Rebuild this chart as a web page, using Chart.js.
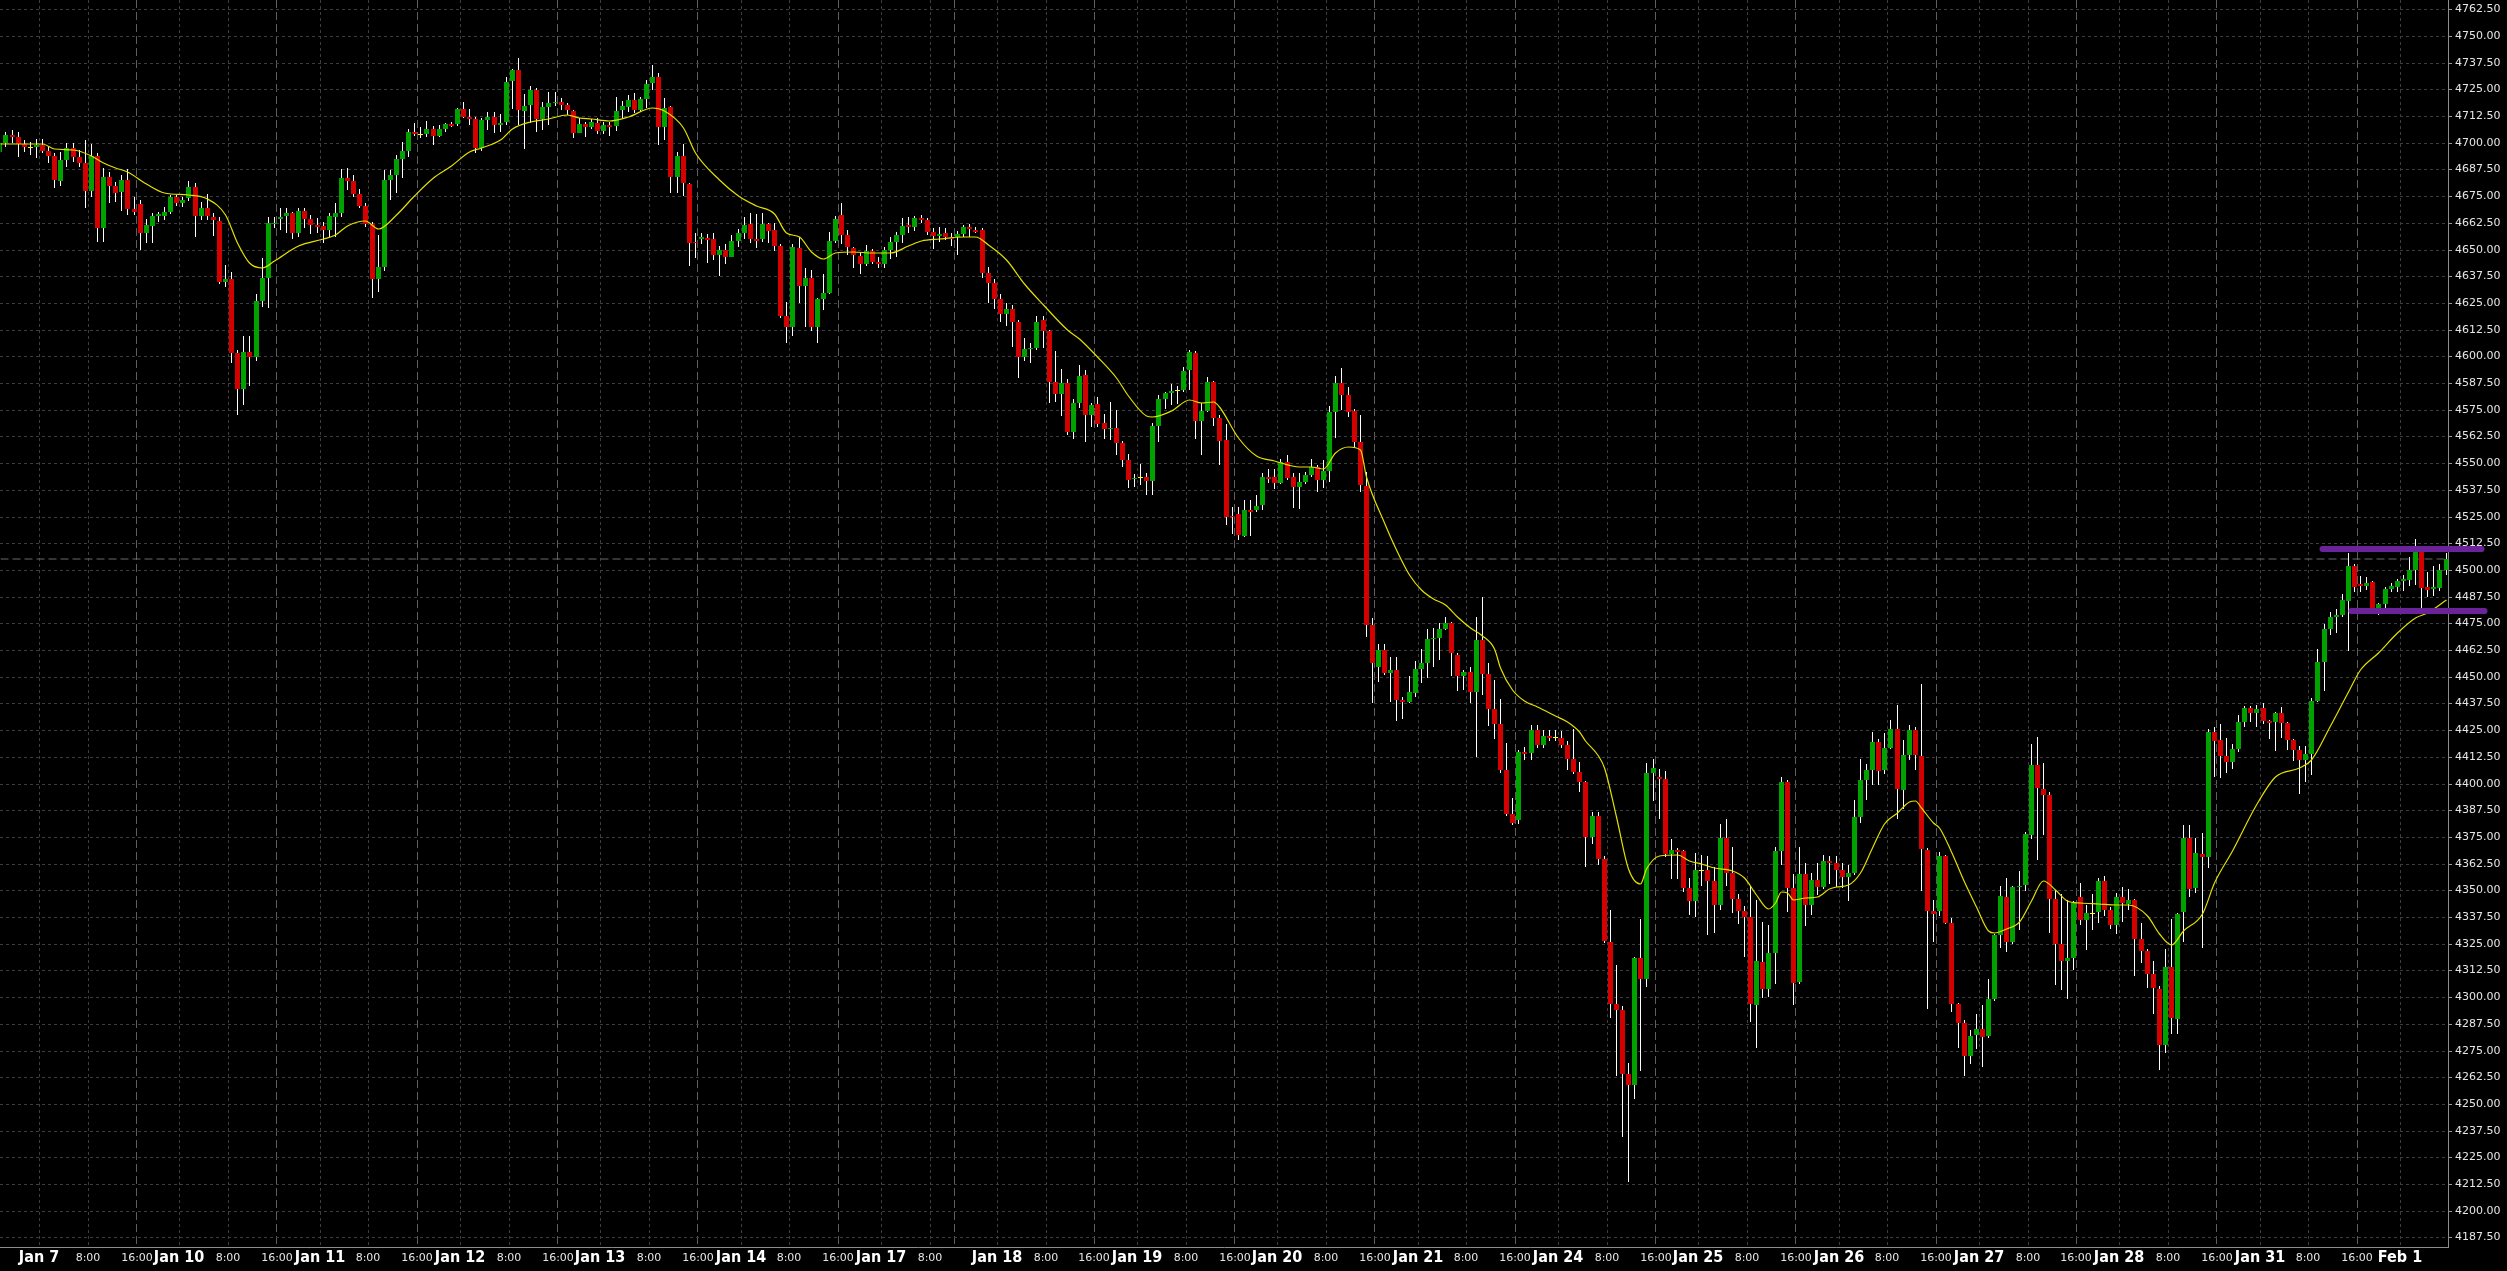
<!DOCTYPE html>
<html>
<head>
<meta charset="utf-8">
<script src="https://cdn.jsdelivr.net/npm/chart.js@4/dist/chart.umd.min.js"></script>
<style>
  html, body { margin: 0; padding: 0; background: #000; overflow: hidden; }
  canvas { display: block; }
</style>
</head>
<body>
<canvas id="chart" width="2507" height="1271"></canvas>
<script>
// hourly candles, Jan 6 18:00 -> Feb 1 07:00 (index = candle number)
var opens = [
  4695.5,4699.7,4703.6,4702.5,4699.3,4697.7,4698.2,4699.0,4696.1,4693.8,
  4682.3,4691.9,4697.4,4693.2,4690.7,4677.6,4693.8,4660.3,4684.1,4679.9,
  4677.1,4682.6,4669.0,4671.3,4657.9,4661.2,4665.7,4665.7,4667.8,4674.5,
  4672.0,4674.0,4679.5,4665.9,4669.3,4665.1,4663.4,4635.0,4636.1,4601.4,
  4584.8,4601.9,4599.9,4626.0,4636.9,4661.8,4664.2,4665.7,4667.0,4657.9,
  4668.1,4664.3,4661.5,4661.0,4659.2,4665.4,4667.0,4683.7,4682.1,4676.0,
  4670.4,4661.8,4636.1,4641.7,4682.6,4684.9,4692.2,4696.1,4705.2,4703.6,
  4704.1,4706.3,4703.3,4706.3,4708.8,4708.8,4715.7,4712.2,4711.1,4697.4,
  4710.7,4711.9,4708.3,4709.9,4728.8,4734.0,4715.0,4717.7,4724.7,4711.0,
  4716.9,4718.5,4719.2,4717.7,4714.9,4704.7,4708.8,4707.2,4709.1,4705.7,
  4708.3,4707.8,4715.3,4716.9,4720.0,4715.3,4720.3,4727.8,4730.6,4707.2,
  4716.6,4684.1,4693.8,4680.7,4653.7,4655.0,4655.6,4655.0,4647.5,4649.8,
  4646.7,4654.0,4657.6,4662.0,4655.0,4654.8,4662.0,4659.2,4651.7,4618.9,
  4613.9,4650.6,4633.0,4636.6,4613.6,4626.7,4629.8,4654.0,4666.2,4656.8,
  4650.6,4647.0,4643.3,4649.3,4644.3,4643.3,4649.8,4653.7,4656.8,4661.5,
  4660.4,4664.6,4663.9,4658.4,4656.5,4657.6,4656.1,4656.1,4657.3,4660.7,
  4659.2,4659.2,4638.9,4634.5,4627.0,4620.0,4622.0,4616.0,4599.9,4603.3,
  4604.1,4617.0,4611.9,4588.1,4582.4,4587.7,4564.7,4578.0,4591.3,4572.5,
  4577.7,4568.6,4565.8,4566.3,4559.3,4551.5,4542.4,4543.2,4543.7,4541.8,
  4567.5,4580.0,4583.0,4583.8,4584.2,4593.6,4601.7,4569.9,4574.4,4587.8,
  4571.3,4560.8,4525.2,4526.2,4516.0,4528.1,4528.1,4530.4,4543.7,4543.7,
  4540.8,4550.7,4543.7,4539.0,4541.3,4544.4,4548.0,4542.1,4546.5,4574.1,
  4587.7,4581.9,4574.4,4559.7,4539.4,4474.2,4454.7,4462.5,4451.9,4453.1,
  4439.1,4438.3,4442.2,4453.4,4456.6,4467.6,4468.0,4472.3,4475.0,4460.2,
  4450.5,4452.4,4443.0,4467.1,4451.4,4434.9,4428.1,4406.2,4385.6,4383.0,
  4414.6,4414.3,4425.0,4418.2,4422.2,4421.5,4421.5,4418.2,4411.6,4405.3,
  4400.9,4374.9,4384.7,4364.8,4326.0,4296.9,4294.1,4263.8,4258.8,4318.3,
  4308.6,4404.8,4403.0,4402.1,4367.2,4368.9,4368.4,4351.0,4344.8,4359.1,
  4359.5,4354.3,4343.3,4374.3,4358.2,4346.0,4340.3,4337.6,4296.4,4316.5,
  4303.6,4320.6,4368.6,4400.7,4351.0,4306.9,4357.7,4343.3,4354.6,4351.6,
  4363.6,4362.7,4359.6,4356.4,4358.2,4384.5,4401.6,4406.2,4419.5,4406.2,
  4416.8,4425.4,4397.1,4413.2,4425.0,4412.9,4369.0,4340.3,4340.5,4365.9,
  4334.6,4296.9,4288.0,4272.2,4282.2,4285.2,4281.7,4299.0,4329.0,4346.7,
  4325.9,4351.4,4352.7,4376.1,4408.7,4397.3,4394.8,4345.8,4325.0,4316.9,
  4318.1,4347.0,4335.9,4338.9,4339.8,4354.5,4340.6,4333.7,4346.7,4343.7,
  4345.5,4327.3,4321.6,4310.6,4303.7,4277.7,4314.1,4289.9,4339.8,4374.7,
  4351.0,4367.0,4365.7,4424.3,4420.5,4412.9,4409.9,4416.0,4429.0,4435.4,
  4433.0,4435.4,4429.5,4429.0,4433.0,4428.5,4420.3,4415.6,4411.1,4413.9,
  4438.8,4457.0,4472.3,4478.0,4478.7,4485.6,4501.7,4493.4,4492.5,4494.3,
  4482.1,4483.9,4491.3,4492.2,4494.8,4495.3,4500.0,4508.6,4492.2,4490.9,
  4491.7,4500.0
];
var highs = [
  4702.0,4705.2,4706.0,4705.2,4701.3,4700.5,4702.0,4701.9,4698.2,4695.1,
  4695.8,4699.7,4699.7,4696.6,4701.3,4699.4,4695.4,4688.0,4686.5,4681.8,
  4684.9,4687.6,4674.8,4673.2,4664.2,4667.3,4667.8,4670.1,4675.6,4675.6,
  4674.8,4682.3,4681.0,4672.4,4676.0,4667.0,4665.1,4642.8,4639.7,4603.0,
  4609.3,4609.3,4629.2,4645.9,4665.4,4665.4,4669.3,4669.3,4667.8,4669.3,
  4669.3,4666.2,4664.6,4663.1,4667.0,4672.0,4687.6,4688.3,4684.9,4678.2,
  4671.7,4663.1,4656.8,4687.3,4687.3,4694.3,4700.5,4706.3,4709.1,4707.2,
  4710.4,4707.9,4708.3,4709.4,4709.9,4716.1,4719.2,4715.7,4711.9,4711.5,
  4714.6,4714.6,4713.5,4730.6,4734.4,4739.5,4722.8,4726.6,4725.5,4719.2,
  4723.9,4723.9,4720.8,4718.5,4715.3,4711.4,4709.9,4711.0,4711.4,4709.9,
  4709.9,4721.3,4719.7,4722.4,4723.1,4721.6,4729.4,4736.4,4732.5,4720.8,
  4717.2,4695.8,4699.4,4681.3,4657.9,4657.9,4657.1,4657.9,4651.7,4652.6,
  4656.8,4659.5,4665.4,4667.0,4666.7,4667.0,4662.6,4662.3,4652.6,4625.6,
  4652.6,4655.8,4641.2,4640.5,4627.2,4638.6,4658.4,4665.7,4671.7,4659.2,
  4651.4,4649.0,4652.2,4650.1,4646.7,4651.1,4655.8,4658.4,4664.6,4665.4,
  4665.7,4666.2,4664.6,4660.0,4660.4,4660.3,4657.6,4658.9,4661.5,4662.0,
  4660.4,4660.0,4642.0,4636.0,4629.0,4625.0,4624.0,4617.0,4608.4,4606.1,
  4619.0,4619.0,4612.3,4602.5,4593.9,4589.2,4579.9,4596.0,4593.6,4578.0,
  4581.1,4573.0,4578.8,4574.9,4560.5,4554.3,4544.9,4549.6,4545.2,4568.6,
  4581.9,4583.5,4587.0,4586.1,4595.2,4603.0,4602.7,4578.3,4590.2,4588.6,
  4572.5,4568.3,4529.6,4529.6,4532.7,4532.7,4535.1,4545.2,4547.1,4547.1,
  4551.8,4553.8,4545.2,4545.2,4546.0,4551.8,4549.1,4551.5,4576.8,4590.8,
  4594.4,4585.5,4575.2,4572.5,4546.0,4477.3,4465.3,4465.3,4459.4,4459.1,
  4440.3,4450.3,4457.3,4462.8,4472.3,4472.6,4475.0,4477.8,4475.8,4461.2,
  4453.1,4454.7,4477.9,4487.2,4456.2,4448.3,4439.4,4418.8,4393.1,4415.5,
  4417.3,4427.6,4427.6,4425.0,4425.0,4425.0,4424.5,4420.0,4425.4,4410.2,
  4401.2,4386.9,4386.9,4365.9,4340.8,4315.2,4296.0,4269.2,4318.8,4336.7,
  4409.6,4411.4,4407.0,4405.7,4373.8,4369.9,4368.9,4355.9,4367.7,4366.6,
  4366.3,4360.9,4380.9,4383.3,4370.2,4348.4,4342.6,4351.9,4345.7,4335.3,
  4333.7,4370.2,4403.0,4401.7,4357.7,4370.2,4362.7,4358.2,4362.7,4366.6,
  4365.9,4365.9,4363.0,4361.8,4392.2,4411.4,4409.3,4424.0,4420.9,4423.6,
  4429.9,4437.0,4420.4,4427.2,4426.3,4446.5,4369.9,4345.7,4368.1,4366.6,
  4337.2,4297.3,4289.2,4284.7,4292.1,4296.5,4308.6,4329.7,4351.9,4355.7,
  4351.9,4359.2,4377.5,4418.6,4422.0,4409.4,4396.0,4350.1,4348.4,4345.3,
  4344.9,4353.6,4343.2,4348.4,4355.7,4356.7,4342.3,4348.8,4351.5,4350.5,
  4345.8,4334.6,4322.4,4316.9,4305.4,4322.4,4336.6,4339.4,4380.5,4380.5,
  4374.7,4377.0,4425.5,4426.4,4427.7,4421.2,4418.6,4431.9,4436.4,4436.4,
  4436.8,4437.6,4429.8,4433.3,4435.9,4429.0,4420.8,4417.4,4417.4,4440.2,
  4463.1,4474.5,4480.4,4481.8,4488.7,4507.8,4502.9,4497.0,4496.5,4494.8,
  4484.4,4492.2,4493.9,4495.6,4497.7,4506.0,4514.4,4510.0,4499.1,4501.7,
  4502.6,4507.8
];
var lows = [
  4694.0,4698.2,4699.7,4693.5,4695.8,4694.3,4692.7,4695.4,4690.7,4678.7,
  4679.8,4688.8,4691.2,4688.8,4669.6,4674.8,4653.7,4653.7,4671.7,4672.4,
  4668.2,4666.2,4666.2,4649.8,4653.2,4653.2,4663.1,4663.9,4666.7,4670.4,
  4670.1,4672.9,4656.1,4663.9,4663.9,4656.4,4633.9,4632.7,4597.1,4572.6,
  4577.3,4586.3,4597.6,4623.3,4622.8,4660.0,4659.2,4657.6,4654.8,4656.1,
  4659.9,4657.3,4657.6,4653.2,4656.1,4656.1,4665.4,4677.9,4674.8,4669.3,
  4660.7,4627.2,4630.3,4640.1,4673.2,4676.3,4683.3,4693.5,4703.3,4702.1,
  4702.9,4699.0,4702.6,4705.2,4707.2,4707.9,4711.5,4708.3,4695.1,4696.3,
  4706.0,4704.4,4705.2,4708.3,4715.7,4708.3,4696.9,4709.4,4705.2,4706.0,
  4708.3,4717.2,4715.3,4713.0,4702.1,4704.4,4702.9,4706.3,4704.1,4704.0,
  4703.2,4705.7,4711.0,4714.6,4714.1,4714.6,4716.1,4724.7,4699.0,4701.3,
  4676.3,4676.3,4675.1,4642.3,4645.9,4652.6,4643.9,4645.1,4637.6,4643.3,
  4646.4,4651.1,4654.8,4652.9,4650.6,4653.7,4652.9,4649.5,4617.8,4606.4,
  4609.3,4624.8,4613.9,4612.1,4606.1,4621.7,4629.2,4652.9,4652.6,4647.5,
  4641.2,4638.6,4642.3,4643.3,4641.2,4641.2,4645.5,4646.4,4653.2,4657.6,
  4658.9,4662.6,4656.8,4650.1,4653.7,4654.5,4651.7,4647.5,4656.1,4656.1,
  4657.6,4636.6,4625.2,4622.0,4616.0,4614.0,4604.5,4590.0,4598.0,4596.7,
  4603.0,4604.0,4578.3,4578.8,4572.1,4563.2,4561.1,4575.7,4560.0,4567.1,
  4567.1,4561.1,4560.8,4553.8,4548.0,4538.2,4538.7,4539.8,4535.1,4535.1,
  4560.0,4575.2,4577.2,4577.7,4583.5,4584.2,4561.1,4553.8,4574.1,4567.4,
  4549.1,4521.0,4516.8,4514.0,4515.6,4515.9,4527.3,4528.1,4540.5,4537.7,
  4540.2,4542.1,4528.8,4528.5,4540.2,4543.7,4536.6,4538.2,4541.0,4561.6,
  4574.9,4571.4,4556.9,4536.6,4468.7,4437.8,4447.7,4450.8,4438.3,4429.4,
  4430.0,4437.5,4440.6,4447.2,4449.6,4454.4,4457.8,4471.9,4450.3,4443.5,
  4443.8,4437.8,4412.5,4441.5,4426.8,4420.9,4404.8,4384.7,4380.6,4381.0,
  4411.1,4411.1,4416.4,4416.4,4419.7,4420.0,4416.4,4406.1,4404.4,4395.8,
  4360.9,4371.6,4361.8,4325.4,4290.1,4262.9,4234.6,4213.5,4252.5,4265.6,
  4304.5,4391.7,4383.3,4365.4,4355.2,4355.2,4349.2,4338.5,4337.6,4352.0,
  4329.0,4330.1,4340.8,4351.9,4339.4,4334.4,4318.8,4288.3,4276.3,4299.6,
  4300.0,4306.3,4361.8,4339.8,4296.4,4306.0,4333.1,4338.5,4348.0,4350.5,
  4352.8,4351.6,4351.0,4345.1,4357.3,4381.5,4392.2,4399.4,4399.4,4404.3,
  4416.0,4383.3,4388.1,4411.1,4406.2,4349.8,4294.2,4325.9,4338.0,4334.0,
  4292.8,4276.3,4263.2,4268.6,4275.7,4267.3,4280.9,4298.2,4322.8,4321.1,
  4325.0,4331.4,4349.8,4374.0,4364.4,4375.8,4330.2,4305.5,4303.4,4299.0,
  4312.9,4333.7,4322.1,4331.4,4334.9,4338.0,4332.0,4329.7,4335.4,4340.6,
  4309.9,4315.8,4304.3,4292.1,4266.1,4273.6,4282.9,4282.9,4325.9,4346.7,
  4348.8,4322.8,4360.5,4403.0,4402.5,4404.7,4407.0,4414.6,4426.7,4429.0,
  4426.7,4427.8,4420.8,4415.1,4421.5,4415.6,4410.4,4395.2,4400.7,4403.8,
  4438.1,4443.3,4469.7,4470.5,4478.0,4461.9,4489.6,4489.6,4490.5,4481.4,
  4478.7,4482.1,4489.6,4489.6,4490.1,4492.5,4493.1,4482.1,4487.3,4487.9,
  4490.1,4497.7
];
var closes = [
  4700.0,4703.6,4702.9,4699.3,4698.2,4697.7,4699.0,4696.1,4693.8,4682.6,
  4691.9,4697.4,4693.2,4690.7,4677.6,4693.8,4660.3,4684.1,4679.9,4676.6,
  4682.6,4669.0,4667.8,4657.9,4661.5,4665.7,4666.5,4667.8,4674.5,4672.0,
  4673.2,4679.5,4665.9,4669.3,4665.9,4663.9,4635.0,4636.1,4601.4,4584.8,
  4601.9,4599.6,4626.0,4636.9,4662.6,4662.6,4665.4,4667.0,4657.9,4668.1,
  4664.3,4661.5,4660.7,4659.2,4665.7,4667.0,4683.7,4682.1,4676.0,4670.4,
  4661.8,4636.1,4641.7,4682.6,4684.9,4692.2,4696.1,4705.2,4704.1,4703.6,
  4706.3,4703.3,4706.3,4708.8,4707.9,4715.7,4712.2,4711.1,4697.4,4710.7,
  4711.9,4708.3,4709.4,4728.6,4734.0,4715.3,4717.2,4724.7,4711.0,4716.6,
  4718.5,4719.2,4717.7,4715.3,4704.7,4708.8,4707.2,4709.9,4705.7,4708.3,
  4707.5,4714.9,4717.2,4720.0,4715.3,4720.3,4727.5,4730.6,4707.2,4716.1,
  4684.1,4693.8,4681.0,4653.2,4652.9,4656.1,4654.5,4647.5,4649.8,4646.7,
  4654.0,4657.9,4661.5,4655.0,4654.0,4662.0,4658.9,4651.9,4618.9,4613.9,
  4651.1,4633.0,4636.6,4613.6,4626.7,4629.5,4654.0,4664.2,4656.8,4651.1,
  4647.5,4643.3,4649.3,4644.3,4643.3,4649.8,4653.7,4656.8,4661.0,4660.4,
  4664.6,4663.9,4658.4,4656.5,4657.3,4656.1,4654.8,4657.3,4660.7,4659.5,
  4658.4,4639.2,4634.5,4627.0,4620.0,4622.0,4616.0,4599.9,4603.4,4603.8,
  4616.0,4612.0,4588.1,4582.4,4587.7,4564.7,4578.3,4590.8,4572.5,4577.2,
  4568.3,4565.8,4566.6,4559.6,4551.5,4542.1,4543.2,4543.2,4541.8,4567.5,
  4580.0,4582.7,4583.8,4583.8,4593.1,4601.9,4569.9,4574.4,4587.8,4571.3,
  4560.5,4524.9,4524.6,4516.3,4528.1,4527.3,4529.9,4543.7,4542.7,4540.5,
  4550.7,4542.9,4539.0,4541.3,4544.4,4548.0,4542.1,4546.5,4574.1,4587.7,
  4581.9,4574.1,4560.0,4539.8,4474.2,4456.6,4462.5,4451.9,4453.1,4439.1,
  4438.3,4443.0,4453.4,4456.6,4467.6,4468.3,4472.3,4475.0,4460.9,4450.5,
  4452.4,4443.0,4467.1,4451.4,4434.9,4428.1,4406.2,4385.6,4381.5,4414.6,
  4413.8,4425.0,4418.2,4422.2,4421.5,4421.5,4418.2,4411.6,4405.3,4400.9,
  4374.9,4384.7,4364.8,4326.5,4296.9,4294.1,4263.8,4258.8,4318.3,4308.6,
  4404.8,4407.5,4402.1,4367.2,4368.9,4368.1,4351.0,4344.8,4359.5,4359.1,
  4354.3,4343.3,4374.3,4358.2,4346.0,4340.3,4337.6,4296.7,4317.0,4303.6,
  4320.6,4368.6,4400.7,4351.0,4306.8,4357.7,4343.3,4354.6,4351.6,4363.6,
  4362.7,4359.6,4356.4,4358.2,4384.5,4401.6,4406.2,4419.5,4406.0,4416.8,
  4425.4,4397.6,4413.2,4425.0,4413.2,4369.3,4340.3,4338.9,4365.9,4334.9,
  4296.9,4288.0,4272.2,4281.7,4285.2,4281.2,4299.0,4329.0,4347.5,4325.9,
  4351.5,4351.9,4376.5,4408.7,4397.8,4394.8,4345.8,4325.0,4316.9,4318.1,
  4344.1,4335.9,4339.4,4338.9,4354.5,4340.6,4333.7,4346.7,4344.1,4345.5,
  4327.3,4321.6,4310.6,4304.3,4277.7,4314.1,4290.4,4338.9,4374.7,4350.5,
  4367.5,4365.7,4424.3,4419.8,4412.9,4409.9,4416.0,4429.0,4435.4,4433.0,
  4435.0,4429.5,4428.5,4433.0,4428.5,4420.3,4415.6,4411.1,4413.9,4438.8,
  4457.0,4472.3,4478.0,4478.7,4486.1,4501.7,4492.2,4492.5,4493.9,4482.1,
  4483.9,4491.3,4492.5,4494.8,4495.6,4500.0,4508.6,4491.7,4490.8,4492.2,
  4500.0,4505.0
];

// yellow moving average at these candles
var maIndex = [0,7,9,12,15,17,19,21,24,27,31,34,37,39,41,43,45,49,53,55,57,60,62,65,68,71,74,77,79,82,
  84,87,90,93,95,97,100,103,107,109,112,114,118,121,124,127,129,131,133,135,137,140,143,146,149,151,154,158,160,162,
  165,168,171,175,177,180,183,185,188,189,192,195,197,199,200,203,206,209,213,215,217,219,221,223,224,227,229,231,233,235,
  237,239,241,243,245,246,248,250,252,255,257,259,260,262,263,265,267,269,270,272,275,277,279,281,284,286,288,290,291,292,
  293,294,296,298,300,301,303,305,307,309,311,313,314,315,317,318,320,322,324,326,327,329,331,333,335,337,339,341,344,347,
  349,352,354,356,358,361,363,366,370,373,377,379,382,385,387,390,393,396,398,401];
var maValues = [4699.5,4699.5,4697,4696.6,4694,4690.5,4688,4686.5,4680.5,4676.3,4675.5,4673.5,4666.2,4653,4643.5,4641.2,4644.5,4651.8,4655,4656.8,4661,4663.5,4659.5,4666,4675,4683.3,4689,4695.5,4697.4,4701.3,
  4706.3,4709.9,4711,4712.9,4711.4,4711,4710.2,4712.2,4716.1,4715,4707,4695.1,4682.6,4675.3,4670.6,4666.5,4657.9,4656,4649,4645.6,4648.6,4649,4648.3,4648.3,4651.7,4654,4654.8,4655.7,4656.1,4652,
  4645,4634,4624,4612.3,4608,4599.9,4589.7,4581.5,4572,4571.8,4574.5,4579.6,4578.3,4578.8,4576.4,4562,4553.5,4551,4548.3,4548,4547.1,4554.6,4557.7,4556,4543.7,4521.8,4509.3,4497.6,4490.6,4486.2,
  4483.6,4478.1,4473,4469,4463,4454,4444,4438.8,4435.6,4431.7,4429,4424,4420,4413,4407.5,4384.2,4360,4352.8,4360,4366.3,4366.6,4363.6,4362.3,4360.5,4359,4356,4348,4341.2,4343.9,4349.3,
  4348.7,4345.7,4346.2,4347,4350.5,4351.6,4352.3,4358,4370,4381,4386,4391.4,4391.7,4388.7,4381.5,4379.2,4368,4354,4342,4331,4330.2,4331.9,4335.4,4345,4354.5,4350,4345,4344.1,4343.6,4343.2,
  4343.2,4338,4329.4,4324.2,4330.8,4338.9,4353.6,4368.3,4390,4403,4407.3,4410.8,4427,4442.8,4453.2,4461,4470.5,4477.5,4479.7,4486];

// bottom axis labels: candle index where each labelled hour starts
var tickIndex = [7,15,23,30,38,46,53,61,69,76,84,92,99,107,115,122,130,138,145,153,
  164,172,180,187,195,203,210,218,226,233,241,249,256,264,272,279,287,295,302,310,
  318,325,333,341,348,356,364,371,379,387,394];
var tickText = ['Jan 7','8:00','16:00','Jan 10','8:00','16:00','Jan 11','8:00','16:00','Jan 12','8:00','16:00','Jan 13','8:00','16:00','Jan 14','8:00','16:00','Jan 17','8:00',
  'Jan 18','8:00','16:00','Jan 19','8:00','16:00','Jan 20','8:00','16:00','Jan 21','8:00','16:00','Jan 24','8:00','16:00','Jan 25','8:00','16:00','Jan 26','8:00',
  '16:00','Jan 27','8:00','16:00','Jan 28','8:00','16:00','Jan 31','8:00','16:00','Feb 1'];
// session separators (long dashes)
var sessionBreaks = [23,46,69,92,115,138,157,180,203,226,249,272,295,318,341,364,387];

// hand drawn range lines (purple)
var rangeTop = { from: 380.7, to: 406.8, price: 4510.0 };
var rangeBottom = { from: 385.5, to: 407.3, price: 4480.6 };

var xMin = 0.1, xMax = 401.4;
var GREEN = '#00a200', RED = '#d40000', DOJI = '#ffff00';

var idx = opens.map(function (o, i) { return i; });
var wicks = idx.map(function (i) { return { x: i, y: [lows[i], highs[i]] }; });
var bodies = idx.map(function (i) { return { x: i, y: [opens[i], closes[i]] }; });
var bodyColors = idx.map(function (i) {
  if (closes[i] > opens[i]) return GREEN;
  if (closes[i] < opens[i]) return RED;
  return DOJI;
});
var maData = maIndex.map(function (x, k) { return { x: x, y: maValues[k] }; });
var lastPrice = closes[closes.length - 1];

// pick a condensed bold face for the date labels if one is installed
function hasFont(name) {
  var c = document.createElement('canvas').getContext('2d');
  c.font = 'bold 40px monospace';
  var a = c.measureText('Jan 10 Feb').width;
  c.font = 'bold 40px "' + name + '", monospace';
  return c.measureText('Jan 10 Feb').width !== a;
}
var dayFont = { family: '"Liberation Sans"', size: 14, weight: 'bold', lineHeight: '18px' };
['Liberation Sans Narrow', 'DejaVu Sans Condensed', 'Roboto Condensed'].some(function (n) {
  if (hasFont(n)) { dayFont = { family: '"' + n + '"', size: 16, weight: 'bold', lineHeight: '18px' }; return true; }
  return false;
});
var timeFont = { family: 'DejaVu Sans', size: 11, lineHeight: '18px' };

function noPad(s) { s.paddingLeft = 0; s.paddingRight = 0; s.paddingTop = 0; s.paddingBottom = 0; }
function labelOf(c) { return (c && c.index !== undefined && tickText[c.index]) || ''; }
function isTime(c) { return labelOf(c).indexOf(':') > 0; }

// half pixel shift so the 1px wicks land on whole pixels
var crispBars = {
  id: 'crispBars',
  beforeDatasetsDraw: function (chart) { chart.ctx.save(); chart.ctx.translate(0.5, 0); },
  afterDatasetsDraw: function (chart) { chart.ctx.restore(); }
};

var ctx = document.getElementById('chart').getContext('2d');
var chart = new Chart(ctx, {
  type: 'bar',
  plugins: [crispBars],
  data: {
    datasets: [
      {
        type: 'line', order: 5,
        data: [{ x: xMin, y: lastPrice }, { x: xMax, y: lastPrice }],
        borderColor: '#6a6a6a', borderWidth: 1, borderDash: [8, 4], pointRadius: 0
      },
      {
        order: 4, data: wicks, backgroundColor: '#ffffff',
        barThickness: 1, grouped: false, inflateAmount: 0, borderWidth: 0
      },
      {
        order: 3, data: bodies, backgroundColor: bodyColors,
        barThickness: 5, grouped: false, inflateAmount: 0, borderWidth: 0, minBarLength: 1
      },
      {
        type: 'line', order: 2, data: maData,
        borderColor: '#e2e000', borderWidth: 1.2, pointRadius: 0, cubicInterpolationMode: 'monotone'
      },
      {
        type: 'line', order: 1, clip: false,
        data: [{ x: rangeTop.from, y: rangeTop.price }, { x: rangeTop.to, y: rangeTop.price }],
        borderColor: '#6b2399', borderWidth: 6, borderCapStyle: 'round', pointRadius: 0
      },
      {
        type: 'line', order: 1, clip: false,
        data: [{ x: rangeBottom.from, y: rangeBottom.price }, { x: rangeBottom.to, y: rangeBottom.price }],
        borderColor: '#6b2399', borderWidth: 6, borderCapStyle: 'round', pointRadius: 0
      }
    ]
  },
  options: {
    responsive: false,
    devicePixelRatio: 1,
    animation: false,
    events: [],
    layout: { padding: 0 },
    plugins: { legend: { display: false }, tooltip: { enabled: false } },
    scales: {
      x: {
        type: 'linear', position: 'bottom', min: xMin, max: xMax, offset: false, alignToPixels: true,
        afterBuildTicks: function (s) { s.ticks = tickIndex.map(function (i) { return { value: i - 0.5 }; }); },
        ticks: {
          autoSkip: false, maxRotation: 0, padding: 2,
          color: function (c) { return isTime(c) ? '#e6e6e6' : '#ffffff'; },
          font: function (c) { return isTime(c) ? timeFont : dayFont; },
          callback: function (v, k) { return tickText[k]; }
        },
        grid: {
          offset: false, drawTicks: false,
          color: function (c) { return labelOf(c) === '16:00' ? 'rgba(0,0,0,0)' : '#3d3d3d'; }
        },
        border: { display: true, color: '#8c8c8c', width: 1, dash: [3, 3] },
        afterFit: function (s) { s.height = 24; noPad(s); }
      },
      xs: {
        type: 'linear', axis: 'x', position: 'bottom', min: xMin, max: xMax, offset: false,
        afterBuildTicks: function (s) { s.ticks = sessionBreaks.map(function (i) { return { value: i - 0.5 }; }); },
        ticks: { display: false },
        grid: { offset: false, drawTicks: false, color: '#5e5e5e' },
        border: { display: false, dash: [8, 4] },
        afterFit: function (s) { s.height = 0; noPad(s); }
      },
      y: {
        position: 'right', min: 4183.0, max: 4766.85, alignToPixels: true,
        ticks: {
          stepSize: 12.5, includeBounds: false, padding: 3,
          color: '#e6e6e6', font: { family: 'DejaVu Sans', size: 11 },
          callback: function (v) { return v.toFixed(2); }
        },
        grid: { color: '#3d3d3d', drawTicks: true, tickLength: 4, tickColor: '#9a9a9a' },
        border: { display: true, color: '#8c8c8c', width: 1, dash: [3, 3] },
        afterFit: function (s) { s.width = 59; noPad(s); }
      }
    }
  }
});
</script>
</body>
</html>
